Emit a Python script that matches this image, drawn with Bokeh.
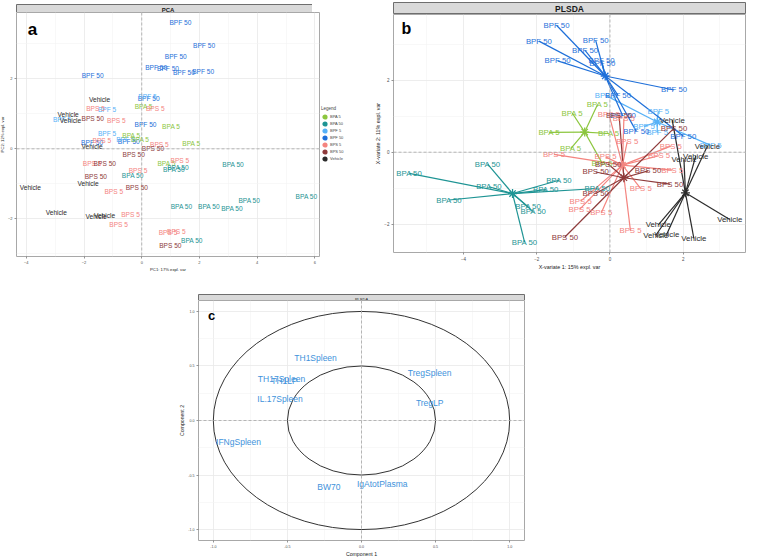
from bokeh.plotting import figure
from bokeh.models import (Range1d, FixedTicker, Span, Label, Legend, LegendItem,
                          ColumnDataSource, Spacer, NumeralTickFormatter)
from bokeh.layouts import row, column
from bokeh.embed import file_html
from bokeh.resources import INLINE
from bokeh.core.properties import value

FONT = "Liberation Sans"
NAN = float("nan")

groups = ["BPA 5", "BPA 50", "BPF 5", "BPF 50", "BPS 5", "BPS 50", "Vehicle"]
group_colors = ["#8CC63E", "#1E9494", "#56B1F7", "#1E6FD9", "#F4847F", "#8E3B3B", "#2B2B2B"]
color_of = dict(zip(groups, group_colors))

# ---------------- panel a : PCA ----------------
a_group = (["BPF 50"] * 12 + ["BPF 5"] * 5 + ["BPA 5"] * 6 + ["BPA 50"] * 10
           + ["BPS 5"] * 13 + ["BPS 50"] * 7 + ["Vehicle"] * 9)
a_pc1 = [1.34, 2.16, 1.18, 0.50, 0.91, 1.46, 2.13, -1.70, 0.24, 0.13, -1.72, -0.45,
         -1.20, -2.76, -1.20, -0.57, 0.20,
         0.07, 1.02, -0.36, -0.05, 1.72, 0.86,
         1.26, 1.12, -0.31, 3.17, 1.38, 2.33, 3.13, 3.73, 5.71, 1.74,
         -1.60, 0.47, -0.88, -1.38, 0.61, -1.72, 1.32, -0.13, -0.97, -0.39, -0.80, 0.91, 1.20,
         -1.70, 0.39, -0.28, -1.28, -1.59, -0.17, 0.99,
         -1.46, -2.55, -2.47, -1.72, -1.86, -3.86, -2.96, -1.29, -1.58]
a_pc2 = [3.60, 2.96, 2.63, 2.34, 2.30, 2.17, 2.22, 2.09, 1.43, 0.69, 0.17, 0.21,
         1.12, 0.84, 0.45, 0.27, 1.50,
         1.20, 0.65, 0.38, 0.27, 0.14, -0.43,
         -0.54, -0.60, -0.75, -0.46, -1.65, -1.64, -1.71, -1.47, -1.36, -2.62,
         1.16, 1.15, 0.81, 0.24, 0.11, -0.43, -0.33, -0.63, -1.22, -1.87, -2.17, -2.39, -2.37,
         0.87, 0.00, -0.17, -0.43, -0.78, -1.10, -2.77,
         1.41, 0.99, 0.81, 0.07, -1.00, -1.12, -1.83, -1.91, -1.95]
a_xticks = [-4, -2, 0, 2, 4, 6]
a_xminor = [-3, -1, 1, 3, 5]
a_yticks = [-2, 0, 2]
a_yminor = [-3, -1, 1, 3]

# ---------------- panel b : PLSDA individuals ----------------
b_cent_group = groups
b_cent_x1 = [-0.69, -2.66, 1.29, -0.13, 0.34, 0.38, 2.06]
b_cent_x2 = [0.56, -1.15, 0.84, 2.12, -0.36, -0.71, -1.13]
b_group = (["BPA 5"] * 6 + ["BPA 50"] * 10 + ["BPF 5"] * 5 + ["BPF 50"] * 12
           + ["BPS 5"] * 13 + ["BPS 50"] * 8 + ["Vehicle"] * 9)
b_x1 = [-1.03, -1.66, -0.34, -0.03, -1.07, -0.21,
        -5.48, -4.39, -3.30, -3.34, -1.39, -1.75, -2.23, -2.09, -2.33, -0.34,
        -0.12, 1.32, 0.93, 1.29, 2.75,
        -1.46, -1.94, -1.43, -0.39, -0.68, -0.23, -0.21, 1.75, 0.22, 0.35, 0.72, 2.00,
        -0.03, 0.38, 0.47, 1.66, 1.34, -0.12, 1.70, 0.84, -0.80, -0.83, -0.24, 0.56, -1.53,
        0.25, -0.39, 1.04, 1.64, -0.39, -1.23, 1.75, -0.05,
        1.70, 2.66, 2.34, 2.02, 3.27, 1.32, 1.25, 1.55, 2.29]
b_x2 = [1.09, 0.55, 1.33, 0.52, 0.10, -0.31,
        -0.59, -1.33, -0.96, -0.33, -0.78, -1.04, -1.52, -1.66, -2.51, -1.01,
        1.58, 1.14, 0.72, 0.54, 0.19,
        3.53, 3.09, 2.54, 3.11, 2.83, 2.55, 2.46, 1.73, 1.58, 1.01, 0.58, 0.45,
        1.06, 0.94, 0.29, 0.17, -0.10, -0.13, -0.50, -1.01, -1.36, -1.59, -1.69, -2.19, -0.06,
        1.03, -0.55, -0.52, -0.89, -1.15, -2.36, 0.67, -0.33,
        0.89, 0.17, -0.11, -0.20, -1.87, -2.02, -2.31, -2.28, -2.40]
b_xticks = [-4, -2, 0, 2]
b_xminor = [-5, -3, -1, 1, 3]
b_yticks = [-2, 0, 2]
b_yminor = [-1, 1, 3]

# ---------------- panel c : correlation circle ----------------
c_var = ["TH1Spleen", "TregSpleen", "TH17Spleen", "TH1LP", "IL.17Spleen",
         "TregLP", "IFNgSpleen", "BW70", "IgAtotPlasma"]
c_comp1 = [-0.31, 0.46, -0.54, -0.52, -0.55, 0.46, -0.83, -0.22, 0.14]
c_comp2 = [0.57, 0.44, 0.38, 0.36, 0.20, 0.16, -0.20, -0.61, -0.58]
c_circle_radius = [1.0, 0.5]
c_ticks = [-1.0, -0.5, 0.0, 0.5, 1.0]
c_minor = [-0.75, -0.25, 0.25, 0.75]


def style_axes(p, xt, xm, yt, ym, xlab, ylab, tick_size, lab_size):
    xtk = FixedTicker(ticks=xt, minor_ticks=xm)
    ytk = FixedTicker(ticks=yt, minor_ticks=ym)
    p.xaxis.ticker = xtk
    p.yaxis.ticker = ytk
    p.xgrid.ticker = xtk
    p.ygrid.ticker = ytk
    p.xaxis.axis_label = xlab
    p.yaxis.axis_label = ylab
    for ax in (p.xaxis, p.yaxis):
        ax.axis_line_color = None
        ax.major_tick_line_color = "#4D4D4D"
        ax.major_tick_line_width = 0.6
        ax.major_tick_out = 2
        ax.major_tick_in = 0
        ax.minor_tick_line_color = None
        ax.major_label_text_font_size = tick_size
        ax.major_label_text_color = "#4D4D4D"
        ax.major_label_text_font = FONT
        ax.major_label_standoff = 0
        ax.axis_label_text_font_size = lab_size
        ax.axis_label_text_font_style = "normal"
        ax.axis_label_text_font = FONT
        ax.axis_label_text_color = "#1A1A1A"
        ax.axis_label_standoff = 0
    for g in (p.xgrid, p.ygrid):
        g.grid_line_color = "#E8E8E8"
        g.grid_line_width = 0.8
        g.minor_grid_line_color = "#F3F3F3"
        g.minor_grid_line_width = 0.6
    p.outline_line_color = "#A8A8A8"
    p.outline_line_width = 1
    p.add_layout(Span(location=0, dimension="height", line_color="#A6A6A6",
                      line_dash="3 2", line_width=0.8))
    p.add_layout(Span(location=0, dimension="width", line_color="#A6A6A6",
                      line_dash="3 2", line_width=0.8))


def bare_figure(fw, fh, bl=0, br=0):
    s = figure(frame_width=fw, frame_height=fh, x_range=Range1d(0, 1), y_range=Range1d(0, 1),
               x_axis_location=None, y_axis_location=None, toolbar_location=None,
               output_backend="svg", min_border_left=bl, min_border_right=br,
               min_border_top=0, min_border_bottom=0)
    for g in s.grid:
        g.visible = False
    return s


def make_strip(text, fw, fh, bl, br, size, bold):
    s = bare_figure(fw, fh, bl, br)
    s.background_fill_color = "#D9D9D9"
    s.outline_line_color = "#6E6E6E"
    s.add_layout(Label(x=0.5, y=0.5, text=text, text_align="center", text_baseline="middle",
                       text_font_size=size, text_font_style="bold" if bold else "normal",
                       text_font=FONT, text_color="#1A1A1A"))
    return s


# ---------- panel a ----------
A_LEFT, A_RIGHT = 12, 1
pa = figure(frame_width=303, frame_height=244, x_range=Range1d(-4.34, 6.16),
            y_range=Range1d(-3.08, 3.9), output_backend="svg", toolbar_location=None,
            min_border_left=A_LEFT, min_border_right=A_RIGHT, min_border_top=0,
            min_border_bottom=24)
style_axes(pa, a_xticks, a_xminor, a_yticks, a_yminor,
           "PC1: 17% expl. var", "PC2: 12% expl. var", "4px", "4.2px")
src_a = ColumnDataSource(dict(x=a_pc1, y=a_pc2, label=a_group,
                              color=[color_of[g] for g in a_group]))
pa.text(x="x", y="y", text="label", source=src_a, text_color="color",
        text_align="center", text_baseline="middle", text_font_size="6.6px",
        text_font=value(FONT))
pa.add_layout(Label(x=16, y=227, x_units="screen", y_units="screen", text="a",
                    text_align="center", text_baseline="middle", text_font_size="17px",
                    text_font_style="bold", text_font=FONT, text_color="black"))
sa = make_strip("PCA", 303, 10, A_LEFT, A_RIGHT, "6px", True)
col_a = column(Spacer(width=10, height=2), sa, pa)

# ---------- legend of panel a (own small canvas) ----------
pl = bare_figure(47, 80)
pl.outline_line_color = None
items = []
for g, c in zip(groups, group_colors):
    r = pl.scatter(x=[NAN], y=[NAN], marker="circle", size=5, fill_color=c,
                   line_color=c, line_width=2.4)
    items.append(LegendItem(label=g, renderers=[r]))
leg = Legend(items=items, location=(1, 8), title="Legend",
             glyph_width=7, glyph_height=7, spacing=0, padding=1, margin=0,
             label_height=5, label_width=10, label_standoff=2,
             label_text_font_size="4px", label_text_font=FONT,
             title_text_font_size="4.5px", title_text_font=FONT,
             title_text_font_style="normal", title_standoff=2,
             background_fill_alpha=0, border_line_color=None)
pl.add_layout(leg)
col_l = column(Spacer(width=47, height=90), pl)

# ---------- panel b ----------
B_LEFT, B_RIGHT = 26, 18
pb = figure(frame_width=352, frame_height=238, x_range=Range1d(-5.91, 3.70),
            y_range=Range1d(-2.79, 3.83), output_backend="svg", toolbar_location=None,
            min_border_left=B_LEFT, min_border_right=B_RIGHT, min_border_top=0,
            min_border_bottom=24)
style_axes(pb, b_xticks, b_xminor, b_yticks, b_yminor,
           "X-variate 1: 15% expl. var", "X-variate 2: 11% expl. var", "4.5px", "5.4px")
cx = dict(zip(b_cent_group, b_cent_x1))
cy = dict(zip(b_cent_group, b_cent_x2))
src_b = ColumnDataSource(dict(x=b_x1, y=b_x2, label=b_group,
                              x0=[cx[g] for g in b_group], y0=[cy[g] for g in b_group],
                              color=[color_of[g] for g in b_group]))
pb.segment(x0="x0", y0="y0", x1="x", y1="y", source=src_b, line_color="color",
           line_width=1.2)
src_bc = ColumnDataSource(dict(x=b_cent_x1, y=b_cent_x2,
                               color=[color_of[g] for g in b_cent_group]))
pb.scatter(x="x", y="y", source=src_bc, marker="asterisk", size=9, line_color="color",
           line_width=1.3)
pb.text(x="x", y="y", text="label", source=src_b, text_color="color",
        text_align="center", text_baseline="middle", text_font_size="7.8px",
        text_font=value(FONT))
pb.add_layout(Label(x=13, y=224, x_units="screen", y_units="screen", text="b",
                    text_align="center", text_baseline="middle", text_font_size="16px",
                    text_font_style="bold", text_font=FONT, text_color="black"))
sb = make_strip("PLSDA", 352, 12, B_LEFT, B_RIGHT, "8.5px", True)
col_b = column(Spacer(width=10, height=2), sb, pb)

# ---------- panel c ----------
C_LEFT, C_RIGHT = 18, 10
pc = figure(frame_width=326, frame_height=240, x_range=Range1d(-1.1, 1.1),
            y_range=Range1d(-1.1, 1.1), output_backend="svg", toolbar_location=None,
            min_border_left=C_LEFT, min_border_right=C_RIGHT, min_border_top=0,
            min_border_bottom=18)
style_axes(pc, c_ticks, c_minor, c_ticks, c_minor, "Component 1", "Component 2",
           "3.6px", "5.2px")
pc.xaxis.formatter = NumeralTickFormatter(format="0.0")
pc.yaxis.formatter = NumeralTickFormatter(format="0.0")
pc.ellipse(x=[0, 0], y=[0, 0], width=[2 * r for r in c_circle_radius],
           height=[2 * r for r in c_circle_radius], fill_color=None,
           line_color="#333333", line_width=1)
src_c = ColumnDataSource(dict(x=c_comp1, y=c_comp2, label=c_var))
pc.text(x="x", y="y", text="label", source=src_c, text_color="#3E92DB",
        text_align="center", text_baseline="middle", text_font_size="8.5px",
        text_font=value(FONT))
pc.add_layout(Label(x=13, y=225, x_units="screen", y_units="screen", text="c",
                    text_align="center", text_baseline="middle", text_font_size="13px",
                    text_font_style="bold", text_font=FONT, text_color="black"))
sc = make_strip("PLSDA", 326, 9, C_LEFT, C_RIGHT, "4px", False)
col_c = column(Spacer(width=10, height=11), sc, pc)

layout = column(row(col_a, col_l, col_b), row(Spacer(width=180, height=10), col_c),
                margin=(0, 0, -8, -4))

open("out.html", "w").write(file_html(layout, INLINE))
